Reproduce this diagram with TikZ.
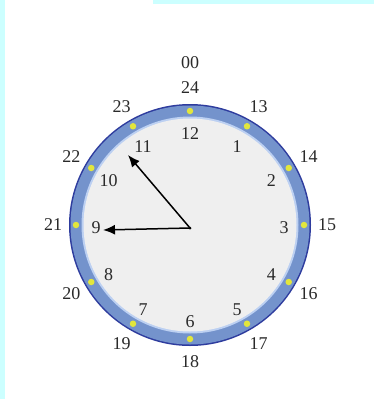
\documentclass[tikz,border=0pt]{standalone}
\usepackage{fontspec}
\setmainfont{Liberation Serif}
\usetikzlibrary{arrows.meta,calc}
\definecolor{edgecyan}{HTML}{CCFFFF}
\definecolor{ringblue}{HTML}{7493CC}
\definecolor{ringedge}{HTML}{2E3C9E}
\definecolor{ringinner}{HTML}{BCD0F2}
\definecolor{face}{HTML}{EFEFEF}
\definecolor{dotyellow}{HTML}{E2E63C}
\definecolor{numgray}{HTML}{2A2A2A}
\tikzset{
  num/.style={font=\fontsize{18}{18}\selectfont, text=numgray, inner sep=0pt},
  hand/.style={line width=1.5pt, -{Latex[length=12pt,width=10pt]}},
  tickdot/.style={circle, fill=dotyellow, inner sep=0pt, minimum size=6.5pt},
}
\begin{document}
\begin{tikzpicture}[x=1pt,y=-1pt]
\useasboundingbox (0,0) rectangle (374,399);
\fill[white] (0,0) rectangle (374,399);
\fill[edgecyan] (0,0) rectangle (5,399);
\fill[edgecyan] (153,0) rectangle (374,3.5);
\coordinate (c) at (190,225);
\coordinate (hc) at (190,228);
% ring and face
\fill[ringedge] (c) circle (121);
\fill[ringblue] (c) circle (119.5);
\fill[ringinner] (c) circle (108.5);
\fill[face] (c) circle (106.5);
% dots
\foreach \i in {0,...,11}{
  \node[tickdot] (d\i) at ($(c)+({30*\i-90}:114)$) {};
}
% inner numbers
\foreach \i/\t in {0/12,1/1,2/2,3/3,4/4,5/5,6/6,7/7,8/8,9/9,10/10,11/11}{
  \node[num] (n\t) at ($(hc)+({30*\i-90}:94)$) {\t};
}
% outer numbers
\foreach \i/\t in {0/24,1/13,2/14,3/15,4/16,5/17,6/18,7/19,8/20,9/21,10/22,11/23}{
  \node[num] (o\t) at ($(c)+({30*\i-90}:137)$) {\t};
}
\node[num] (o00) at (190,63) {00};
% hands
\fill (hc) circle (1.5);
\coordinate (htip) at (103,230);
\coordinate (mtip) at (128,155);
\draw[hand] (hc) -- (htip);
\draw[hand] (hc) -- (mtip);
\end{tikzpicture}
\end{document}
